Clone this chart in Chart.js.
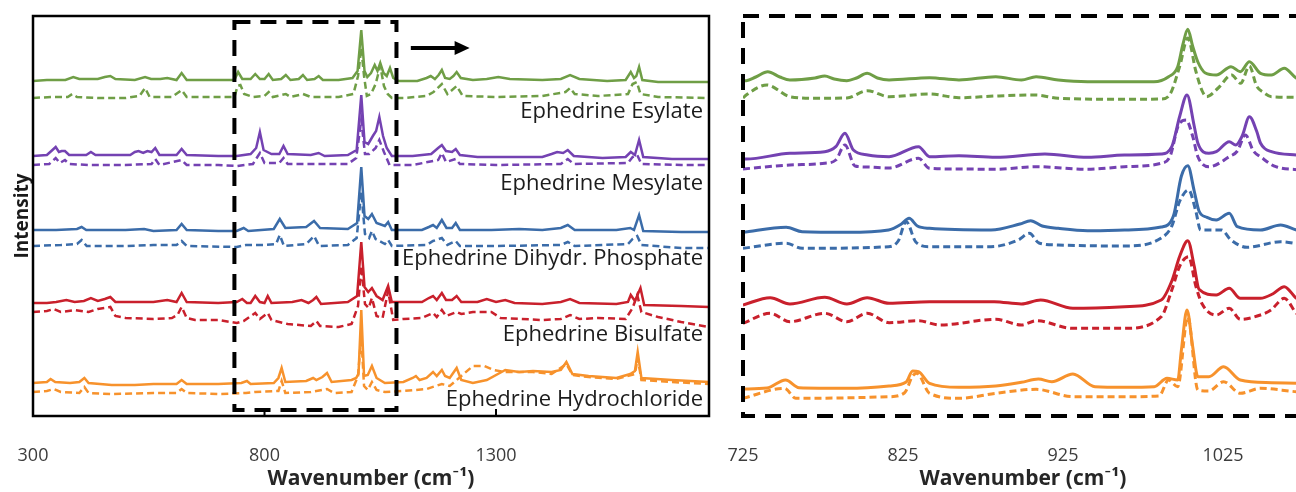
<!DOCTYPE html>
<html>
<head>
<meta charset="utf-8">
<script src="https://cdn.jsdelivr.net/npm/chart.js@4.4.1/dist/chart.umd.min.js"></script>
<style>
  html, body { margin: 0; padding: 0; background: #ffffff; overflow: hidden; width: 1296px; height: 492px; }
  #left { position: absolute; left: 0; top: 0; }
  #right { position: absolute; left: 720px; top: 0; }
</style>
</head>
<body>
<canvas id="left" width="720" height="492"></canvas>
<canvas id="right" width="600" height="492"></canvas>
<script>
// ---------------- DATA ----------------
const compounds = ['Ephedrine Esylate', 'Ephedrine Mesylate', 'Ephedrine Dihydr. Phosphate', 'Ephedrine Bisulfate', 'Ephedrine Hydrochloride'];
const labelLevels = [304, 232, 157, 81, 16];
const leftTicks = [300, 800, 1300];
const rightTicks = [725, 825, 925, 1025];
const leftRange = [300, 1760];
const rightRange = [725, 1075];
const zoomWindow = [735, 1085];          // dashed region in the full spectrum
const axisTitle = 'Wavenumber (cm\u207B\u00B9)';
const yTitle = 'Intensity';

// Full spectra (left panel): [wavenumber, offset intensity]
const esylateSolidL = [[300,335],[330,336],[370,336],[387,339],[400,337],[440,337],[455,339],[467,340],[478,337],[520,336],[542,339],[555,337],[575,337],[590,338],[610,336],[621,343],[632,336],[700,336],[735,336],[743,344],[752,337],[770,337],[780,342],[790,337],[800,337],[809,342],[818,336],[836,337],[846,341],[856,336],[874,337],[883,341],[892,336],[908,337],[917,340],[926,336],[960,336],[990,338],[1001,345],[1009,386],[1016,345],[1022,339],[1030,343],[1038,351],[1044,345],[1050,353],[1057,343],[1064,340],[1071,348],[1078,338],[1090,335],[1130,335],[1150,338],[1159,340],[1168,337],[1176,341],[1183,346],[1190,338],[1200,337],[1208,340],[1215,344],[1224,338],[1250,336],[1280,337],[1305,339],[1330,337],[1400,336],[1440,337],[1460,341],[1480,337],[1540,335],[1580,336],[1591,344],[1598,338],[1603,340],[1609,349],[1616,336],[1650,334],[1700,334],[1760,334]];
const esylateDashL = [[300,318],[340,319],[375,319],[385,322],[395,319],[440,318],[500,318],[530,320],[542,328],[552,319],[600,319],[621,326],[632,319],[700,319],[735,319],[742,330],[748,331],[756,322],[775,319],[800,320],[809,324],[818,319],[846,322],[856,319],[883,322],[900,319],[960,319],[992,322],[1002,340],[1009,368],[1015,340],[1021,320],[1030,322],[1040,332],[1050,350],[1058,330],[1066,322],[1075,318],[1100,318],[1150,320],[1165,324],[1183,332],[1195,322],[1215,330],[1228,320],[1300,319],[1400,320],[1450,324],[1460,328],[1470,322],[1520,320],[1585,322],[1595,332],[1604,334],[1612,322],[1650,319],[1760,318]];
const mesylateSolidL = [[300,260],[330,261],[342,266],[349,269],[356,264],[362,265],[369,265],[378,261],[415,261],[425,264],[435,261],[510,261],[520,264],[528,265],[538,263],[547,265],[556,264],[564,268],[573,261],[610,261],[621,267],[632,261],[700,260],[740,260],[770,262],[782,268],[790,284],[798,266],[815,262],[832,262],[841,270],[850,262],[900,261],[917,263],[930,260],[980,261],[999,266],[1009,321],[1016,274],[1024,272],[1034,280],[1041,285],[1048,299],[1056,280],[1064,268],[1075,260],[1120,260],[1160,262],[1175,268],[1183,271],[1192,265],[1205,264],[1213,267],[1222,261],[1260,259],[1330,259],[1400,259],[1420,262],[1432,264],[1445,263],[1455,266],[1468,260],[1530,258],[1580,259],[1591,264],[1600,261],[1609,276],[1618,259],[1680,257],[1760,257]];
const mesylateDashL = [[300,251],[335,252],[349,258],[358,253],[369,256],[378,252],[420,251],[500,251],[556,252],[564,257],[573,251],[621,256],[632,251],[700,251],[740,250],[775,252],[790,263],[800,253],[832,253],[841,258],[850,252],[900,252],[980,252],[998,258],[1009,296],[1017,262],[1026,262],[1040,268],[1048,276],[1058,264],[1070,251],[1120,251],[1175,256],[1183,263],[1192,254],[1213,257],[1222,252],[1300,251],[1440,252],[1455,257],[1468,252],[1585,253],[1595,259],[1605,261],[1614,252],[1700,251],[1760,251]];
const phosphateSolidL = [[300,186],[350,186],[395,187],[405,189],[415,186],[500,186],[540,187],[560,185],[610,186],[621,192],[632,186],[700,185],[740,185],[755,188],[765,185],[820,187],[833,197],[845,188],[890,189],[907,195],[920,188],[980,187],[1000,193],[1009,249],[1016,200],[1024,197],[1032,202],[1042,193],[1060,190],[1067,194],[1075,186],[1140,186],[1155,189],[1164,191],[1172,188],[1183,196],[1193,188],[1205,188],[1213,193],[1222,186],[1290,186],[1350,187],[1400,186],[1440,188],[1455,191],[1470,186],[1560,186],[1590,188],[1598,186],[1609,201],[1618,185],[1700,184],[1760,184]];
const phosphateDashL = [[300,170],[360,171],[395,172],[405,176],[416,170],[500,170],[560,171],[610,171],[621,175],[632,170],[740,169],[760,171],[800,171],[825,172],[833,181],[842,170],[890,172],[907,180],[918,170],[980,171],[999,178],[1009,224],[1017,182],[1026,178],[1032,185],[1040,177],[1060,172],[1067,176],[1075,170],[1150,171],[1164,175],[1183,178],[1195,171],[1213,175],[1222,170],[1300,170],[1440,171],[1455,174],[1470,170],[1585,172],[1595,177],[1605,180],[1614,171],[1700,168],[1760,168]];
const bisulfateSolidL = [[300,113],[330,113],[350,114],[372,116],[390,114],[410,115],[425,118],[440,115],[455,117],[467,119],[478,114],[520,114],[560,114],[590,116],[610,114],[621,123],[632,114],[700,113],[740,114],[752,117],[762,113],[770,113],[780,120],[790,114],[800,113],[807,120],[815,113],[860,114],[880,116],[895,113],[905,116],[912,119],[922,112],[980,114],[1000,120],[1009,174],[1016,129],[1024,124],[1032,128],[1042,120],[1055,116],[1067,130],[1075,114],[1140,114],[1155,118],[1164,120],[1172,116],[1183,123],[1192,116],[1205,116],[1215,120],[1225,114],[1260,114],[1280,117],[1300,114],[1320,116],[1340,113],[1400,112],[1440,114],[1460,117],[1480,113],[1560,112],[1585,114],[1591,121],[1600,115],[1612,128],[1620,111],[1700,110],[1760,109]];
const bisulfateDashL = [[300,104],[330,105],[345,107],[360,104],[390,106],[420,104],[440,107],[455,108],[467,109],[478,100],[500,98],[560,97],[600,98],[612,101],[621,109],[632,98],[650,96],[700,96],[740,93],[755,95],[780,103],[790,97],[807,103],[815,96],[850,92],[900,90],[912,95],[920,90],[960,89],[988,92],[1002,110],[1009,150],[1017,112],[1025,108],[1032,118],[1042,100],[1055,98],[1067,125],[1078,96],[1100,97],[1140,98],[1164,103],[1172,99],[1183,106],[1192,100],[1215,104],[1225,102],[1250,104],[1290,104],[1310,98],[1400,96],[1440,97],[1460,101],[1480,97],[1520,98],[1580,97],[1595,108],[1605,121],[1614,104],[1650,99],[1700,94],[1760,89]];
const hydrochlorideSolidL = [[300,33],[330,34],[338,37],[348,34],[380,33],[400,34],[411,38],[420,33],[470,31],[520,31],[560,32],[610,32],[621,36],[632,32],[700,32],[750,33],[762,35],[770,32],[820,33],[830,38],[837,48],[845,34],[890,35],[905,38],[912,36],[925,39],[935,43],[945,34],[988,36],[998,38],[1003,42],[1009,106],[1015,40],[1023,41],[1032,50],[1042,38],[1060,33],[1100,34],[1120,38],[1127,40],[1135,36],[1150,38],[1164,44],[1172,40],[1183,46],[1190,40],[1200,38],[1215,48],[1225,36],[1250,33],[1280,36],[1320,46],[1350,44],[1380,45],[1420,44],[1440,46],[1452,54],[1465,42],[1500,40],[1560,38],[1590,42],[1600,45],[1606,64],[1614,38],[1680,36],[1760,34]];
const hydrochlorideDashL = [[300,24],[330,25],[345,27],[360,24],[400,23],[411,29],[420,23],[470,22],[560,23],[610,23],[621,27],[632,23],[700,22],[760,23],[780,24],[830,25],[837,35],[845,23],[900,24],[935,27],[950,23],[988,24],[1002,40],[1009,80],[1015,30],[1023,26],[1032,34],[1042,26],[1060,24],[1100,25],[1150,27],[1183,32],[1200,30],[1215,36],[1225,40],[1250,50],[1275,50],[1295,46],[1320,44],[1380,44],[1420,42],[1452,52],[1465,41],[1500,39],[1560,37],[1600,42],[1606,58],[1614,36],[1680,34],[1760,32]];

// Zoomed spectra (right panel)
const esylateSolidR = [[725,335.3],[727,335.3],[733,339],[740.5,344.3],[748,339],[754.3,336],[770,338],[776.1,340],[782,337],[789.9,335.3],[796,338],[802.6,342.7],[809,338],[816.3,336],[841.6,338.3],[860,336],[883,339.3],[899,336],[908.2,339.3],[922,336],[940.4,334.3],[963.4,334.3],[981.8,334.3],[991,339.3],[996.7,349.3],[1000,372],[1003,386.7],[1006,370],[1009.3,354],[1014,343],[1020.8,341],[1030,349.3],[1035.8,344.3],[1041.5,354.3],[1048.4,342.7],[1055.3,341],[1063.3,347.7],[1070.9,337.7],[1075,336]];
const esylateDashR = [[725,318],[727,321],[740,331],[754.3,319.3],[770,317.7],[789.9,318],[802.6,325.3],[816.3,319.3],[841.6,322],[860,318.3],[883,320],[908.2,321],[922,317.7],[963.4,316.7],[986.4,317],[992,322],[998,350],[1003,378],[1008,345],[1012,325],[1014.8,319.3],[1022,328],[1030.4,341],[1036,332.7],[1041.5,350],[1046,330],[1050,324],[1055.3,319.3],[1075,318.7]];
const mesylateSolidR = [[725,257],[727,257],[754.3,262.7],[776.1,264.3],[783,269.3],[788.7,282.7],[794,266],[803,261],[816.3,259.3],[834.7,269.3],[841.6,259.3],[860,260.3],[883,258.7],[913.7,262],[940.4,258.7],[963.4,261],[986.4,262],[993,269.3],[998,300],[1002.5,321],[1007,290],[1009.3,272.7],[1016.2,262.7],[1020.8,264.3],[1028.9,274.3],[1033,271],[1037,280],[1041.5,299.3],[1046,285],[1048.4,273],[1055.3,264.3],[1070.9,261],[1075,260.5]];
const mesylateDashR = [[725,247],[754.3,251],[776.1,252.7],[783,256],[788.7,271],[795,250],[803,249],[816.3,248],[834.7,257.7],[841.6,247.7],[860,247],[883,246.7],[908,249.3],[940.4,246.7],[963.4,249.3],[986.4,252.7],[992,260],[997,290],[1002,296],[1006,280],[1009.3,259.3],[1016.2,249.3],[1028.9,259.3],[1034,265],[1039,281],[1044,265],[1048.4,259.3],[1058,249.3],[1075,246]];
const phosphateSolidR = [[725,183.7],[752,188.7],[762,184.3],[790,183.7],[816,186],[824,192],[828.8,197.7],[834,190],[841.6,187.7],[880,186],[898,192],[904.8,195.3],[912,190],[922,187.7],[940.4,185.3],[963.4,186],[986.4,189],[994,200],[999,240],[1003,250.3],[1007,225],[1010,205],[1015,198.7],[1020.8,196],[1028.9,202.7],[1034,189.3],[1048.4,186],[1061,191],[1070.9,186],[1075,185]];
const phosphateDashR = [[725,167.7],[752,172.7],[762,167.7],[816,169.3],[822,175],[827,194.3],[833,174],[841.6,169.3],[880,169.3],[897,176],[904,182.7],[910,173],[922,171],[963.4,170],[986.4,178],[993,190],[998,215],[1003.5,226],[1008,205],[1011,186],[1018,186],[1024,186],[1030,176],[1040,168.7],[1061,174.3],[1075,171]];
const bisulfateSolidR = [[725,111],[742,118.3],[754.3,112],[776.1,118.7],[789.9,112],[802.6,118.3],[816.3,112.7],[841.6,114.3],[882,114.3],[899,112],[911,116],[931.2,107.7],[963.4,109.3],[986.4,116],[993,135],[998,160],[1003,175.3],[1007,150],[1010,126.7],[1020.8,121],[1028.9,127.7],[1035.8,117.7],[1048.4,117.7],[1056,122],[1063.3,129.3],[1070.9,117.7],[1075,115]];
const bisulfateDashR = [[725,92.7],[742,102.7],[754.3,94.3],[776.1,102.7],[789.9,94.3],[802.6,102.7],[816.3,93.3],[834.7,95.3],[848,91],[883,96.7],[899,91],[908.2,95.3],[931,87.7],[963.4,87.7],[986.4,99.3],[993,126],[998,150],[1003.5,159.3],[1008,130],[1012,112],[1020.8,101],[1028.9,107.7],[1035.8,96.7],[1048.4,101],[1055,106],[1063.3,117.7],[1070.9,102.7],[1075,98]];
const hydrochlorideSolidR = [[725,27],[740,28],[751.6,36],[760,28.3],[790,27.7],[816.3,30],[827,34],[831,45],[834.7,44.3],[841.6,32.7],[860,28.7],[883,30],[899,33.7],[909.6,37],[918,34.3],[931.2,42],[945,29.3],[963.4,28.7],[982,29.3],[990,37.7],[996.7,36],[999,66],[1002.5,106],[1006,70],[1009.3,39.3],[1016.2,39.3],[1025.4,49.3],[1035.8,36],[1055.3,33.3],[1070.9,32.7],[1075,32.5]];
const hydrochlorideDashR = [[725,17.7],[751,27.7],[758,17.7],[816.3,19.3],[826,23.3],[831,40],[833.7,42.7],[841.6,22.7],[860,17.7],[883,22.7],[908.2,26.7],[931.2,19.3],[963.4,19.3],[985,20],[991,36],[996.7,29.3],[1003,99.3],[1009.3,26],[1016,25],[1025.4,34.3],[1035.8,22.7],[1048.4,27.7],[1070.9,24.3],[1075,24]];

const arrowFrom = [1116, 368];
const arrowTo = [1243, 368];
const yRange = [0, 400];

// ---------------- STYLE ----------------
const colors = ['#6f9e46', '#7442b2', '#3b6ca9', '#c9202c', '#f7922c'];
const FONT = '"Open Sans", Lato, sans-serif';

const leftSeries = [[esylateSolidL, esylateDashL], [mesylateSolidL, mesylateDashL], [phosphateSolidL, phosphateDashL], [bisulfateSolidL, bisulfateDashL], [hydrochlorideSolidL, hydrochlorideDashL]];
const rightSeries = [[esylateSolidR, esylateDashR], [mesylateSolidR, mesylateDashR], [phosphateSolidR, phosphateDashR], [bisulfateSolidR, bisulfateDashR], [hydrochlorideSolidR, hydrochlorideDashR]];

function buildDatasets(series, width, smooth) {
  const ds = [];
  series.forEach((pair, i) => {
    const names = ['solid', 'dashed'];
    pair.forEach((pts, j) => {
      ds.push({
        label: compounds[i] + ' ' + names[j],
        data: pts.map(p => ({ x: p[0], y: p[1] })),
        borderColor: colors[i],
        borderWidth: width,
        borderDash: j === 1 ? [7, 4] : [],
        pointRadius: 0,
        fill: false,
        tension: smooth ? 0.4 : 0,
        cubicInterpolationMode: smooth ? 'monotone' : 'default',
        order: j === 0 ? 0 : 1
      });
    });
  });
  return ds;
}

function xScale(range, ticks) {
  return {
    type: 'linear', min: range[0], max: range[1],
    afterBuildTicks: s => { s.ticks = ticks.map(v => ({ value: v })); },
    afterFit: s => { s.height = 76; s.paddingLeft = 0; s.paddingRight = 0; },
    grid: { display: false, drawTicks: false },
    border: { display: false },
    ticks: { font: { family: FONT, size: 18 }, color: '#3c3c3c', padding: 29, maxRotation: 0, autoSkip: false, callback: v => String(v) },
    title: { display: true, text: axisTitle, font: { family: FONT, size: 21, weight: 'bold' }, color: '#262626', padding: { top: 0, bottom: 0 } }
  };
}

const leftDecor = {
  id: 'leftDecor',
  afterDatasetsDraw(chart) {
    const { ctx, chartArea: a, scales: { x, y } } = chart;
    ctx.save();
    // dashed zoom window
    ctx.strokeStyle = '#000'; ctx.lineWidth = 4; ctx.setLineDash([16, 10]);
    const x0 = x.getPixelForValue(zoomWindow[0]), x1 = x.getPixelForValue(zoomWindow[1]);
    ctx.strokeRect(x0, a.top + 6, x1 - x0, a.bottom - a.top - 12);
    ctx.setLineDash([]);
    // arrow
    const ax0 = x.getPixelForValue(arrowFrom[0]), ax1 = x.getPixelForValue(arrowTo[0]), ay = y.getPixelForValue(arrowFrom[1]);
    ctx.lineWidth = 4; ctx.beginPath(); ctx.moveTo(ax0, ay); ctx.lineTo(ax1 - 12, ay); ctx.stroke();
    ctx.fillStyle = '#000'; ctx.beginPath(); ctx.moveTo(ax1, ay); ctx.lineTo(ax1 - 15, ay - 7); ctx.lineTo(ax1 - 15, ay + 7); ctx.closePath(); ctx.fill();
    // frame
    ctx.lineWidth = 2.5; ctx.strokeRect(a.left, a.top, a.right - a.left, a.bottom - a.top);
    // inner ticks
    ctx.lineWidth = 2;
    x.ticks.forEach(t => { const px = x.getPixelForValue(t.value); ctx.beginPath(); ctx.moveTo(px, a.bottom); ctx.lineTo(px, a.bottom - 7); ctx.stroke(); });
    // compound labels
    ctx.font = '22px ' + FONT; ctx.fillStyle = '#1c1c1c'; ctx.textAlign = 'right'; ctx.textBaseline = 'middle';
    compounds.forEach((c, i) => ctx.fillText(c, a.right - 6, y.getPixelForValue(labelLevels[i])));
    ctx.restore();
  }
};

const rightDecor = {
  id: 'rightDecor',
  afterDatasetsDraw(chart) {
    const { ctx, chartArea: a } = chart;
    ctx.save();
    ctx.strokeStyle = '#000'; ctx.lineWidth = 4; ctx.setLineDash([16, 10]);
    ctx.strokeRect(a.left, a.top, a.right - a.left, a.bottom - a.top);
    ctx.restore();
  }
};

new Chart(document.getElementById('left'), {
  type: 'line',
  data: { datasets: buildDatasets(leftSeries, 2.5, false) },
  options: {
    responsive: false, animation: false, devicePixelRatio: 1,
    layout: { padding: { top: 16, right: 11, left: 0, bottom: 0 } },
    plugins: { legend: { display: false }, tooltip: { enabled: false } },
    scales: {
      x: xScale(leftRange, leftTicks),
      y: {
        min: yRange[0], max: yRange[1],
        afterFit: s => { s.width = 33; },
        grid: { display: false, drawTicks: false }, border: { display: false },
        ticks: { display: false },
        title: { display: true, text: yTitle, font: { family: FONT, size: 19, weight: 'bold' }, color: '#1a1a1a', padding: { top: 11, bottom: 0 } }
      }
    }
  },
  plugins: [leftDecor]
});

new Chart(document.getElementById('right'), {
  type: 'line',
  data: { datasets: buildDatasets(rightSeries, 3, true) },
  options: {
    responsive: false, animation: false, devicePixelRatio: 1,
    layout: { padding: { top: 16, right: 17, left: 23, bottom: 0 } },
    plugins: { legend: { display: false }, tooltip: { enabled: false } },
    scales: {
      x: xScale(rightRange, rightTicks),
      y: { min: yRange[0], max: yRange[1], display: false }
    }
  },
  plugins: [rightDecor]
});
</script>
</body>
</html>
